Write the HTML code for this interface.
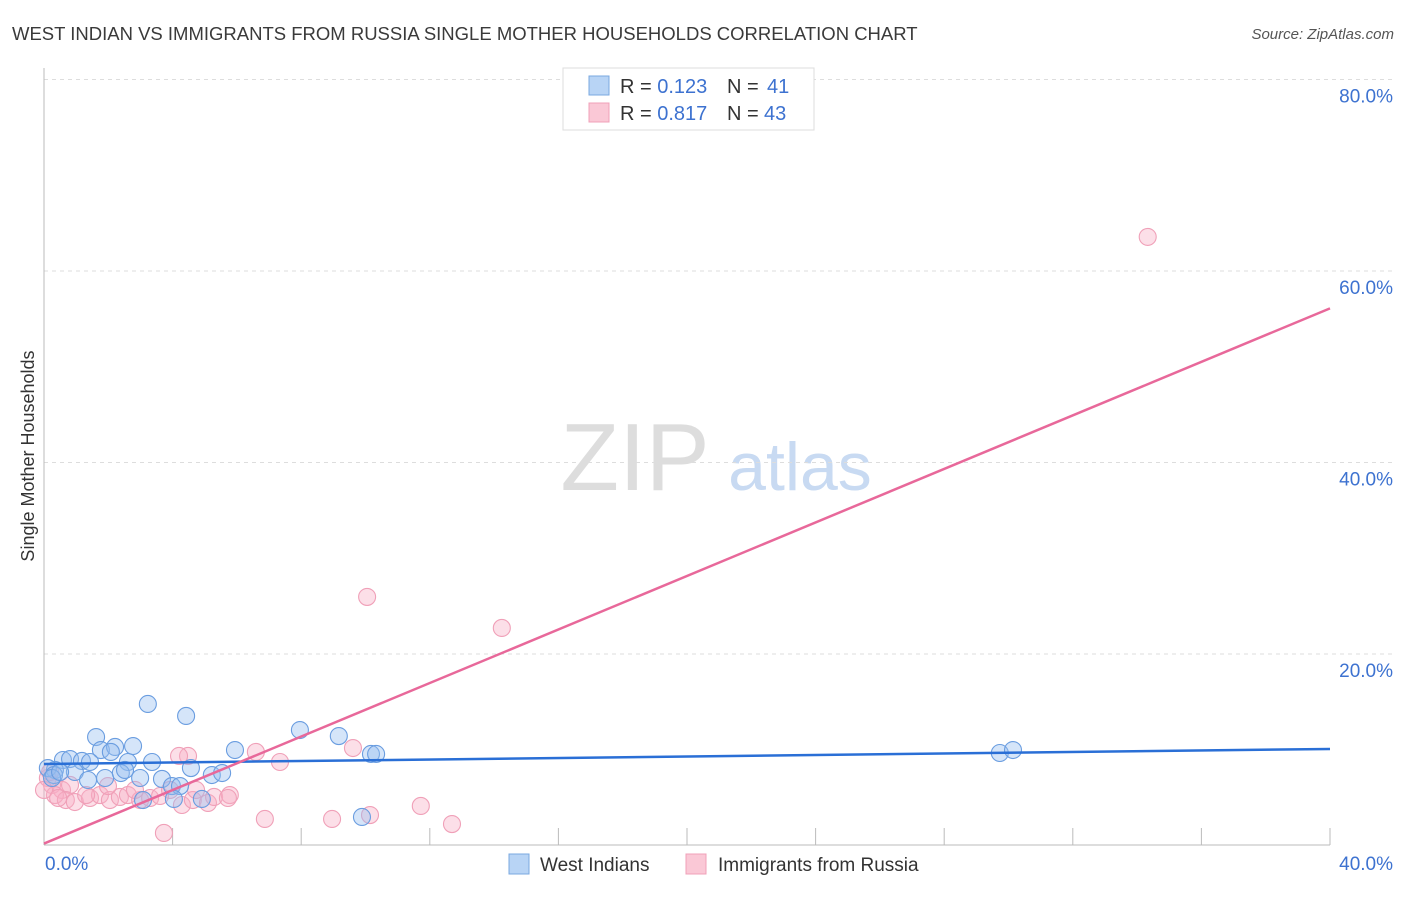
<!DOCTYPE html>
<html><head><meta charset="utf-8"><style>
body{margin:0;background:#fff;font-family:"Liberation Sans",sans-serif}
svg text{font-family:"Liberation Sans",sans-serif}
</style></head><body>
<svg width="1406" height="892">
<text x="12" y="40" font-size="18.5" fill="#3a3a3a">WEST INDIAN VS IMMIGRANTS FROM RUSSIA SINGLE MOTHER HOUSEHOLDS CORRELATION CHART</text>
<text x="1394" y="39" font-size="15" fill="#555" font-style="italic" text-anchor="end">Source: ZipAtlas.com</text>
<g><text x="635" y="490" font-size="96" fill="#ddd" font-family="Liberation Serif" text-anchor="middle">ZIP</text><text x="800" y="490" font-size="68" fill="#c8daf2" text-anchor="middle">atlas</text></g>
<g id="grid"></g>
<g id="axes"></g>
<g id="marks"></g>
<text transform="translate(34,456) rotate(-90)" font-size="18" fill="#333" text-anchor="middle">Single Mother Households</text>
<g>
<rect x="563" y="68" width="251" height="62" fill="#fff" stroke="#ddd"/>
<rect x="589" y="76" width="20" height="19" fill="#b8d4f5" stroke="#7aa8e0"/>
<rect x="589" y="103" width="20" height="19" fill="#fac8d6" stroke="#f0a0b8"/>
<text x="620" y="93" font-size="20" fill="#333">R = <tspan fill="#3d72d0">0.123</tspan></text>
<text x="727" y="93" font-size="20" fill="#333">N = <tspan fill="#3d72d0" x="767">41</tspan></text>
<text x="620" y="120" font-size="20" fill="#333">R = <tspan fill="#3d72d0">0.817</tspan></text>
<text x="727" y="120" font-size="20" fill="#333">N = <tspan fill="#3d72d0" x="764">43</tspan></text>
</g>
<g>
<rect x="509" y="854" width="20" height="20" fill="#b8d4f5" stroke="#7aa8e0"/>
<text x="540" y="871" font-size="19" fill="#333">West Indians</text>
<rect x="686" y="854" width="20" height="20" fill="#fac8d6" stroke="#f0a0b8"/>
<text x="718" y="871" font-size="19" fill="#333">Immigrants from Russia</text>
</g>
</svg>
<script>
const yTicks=[20,40,60,80];
const xTickLabels=["0.0%","40.0%"];
const blueX=[3.23,4.42,1.62,7.96,9.17,1.77,2.21,2.77,5.94,10.17,10.33,29.73,30.14,0.59,0.81,1.18,1.43,2.08,2.61,3.36,0.34,0.12,0.96,1.90,2.39,2.52,2.99,3.67,4.57,5.22,5.54,0.31,3.98,4.23,3.08,4.91,4.04,9.89,0.25,1.37,0.50];
const blueY=[14.78,13.53,11.33,12.06,11.43,9.97,10.29,10.39,9.97,9.56,9.56,9.66,9.97,8.93,9.03,8.83,8.72,9.77,8.72,8.72,7.89,8.09,7.68,7.05,7.57,7.89,7.05,6.95,8.09,7.36,7.57,7.36,6.21,6.21,4.75,4.86,4.86,2.98,7.05,6.84,7.68];
const pinkX=[34.33,10.05,14.24,9.61,6.59,4.48,4.20,7.34,0.12,0.25,0.56,0.81,0.34,0.68,0.96,1.43,1.74,2.05,2.36,2.61,2.99,3.30,3.61,3.92,4.29,4.63,5.10,5.29,5.78,1.99,2.83,4.73,0,0.19,6.87,8.96,10.14,11.72,12.69,3.73,0.44,1.31,5.72];
const pinkY=[63.56,25.96,22.72,10.18,9.77,9.35,9.35,8.72,7.05,6.32,5.80,6.32,5.27,4.75,4.54,4.96,5.27,4.75,5.07,5.27,4.75,4.96,5.17,5.80,4.23,4.75,4.44,5.07,5.27,6.21,5.80,5.80,5.80,7.68,2.77,2.77,3.18,4.13,2.24,1.31,4.96,5.27,4.96];
const blueLine=[8.51,10.08];
const pinkLine=[0.2,56.1];
const xs=v=>44+v/40*1286, ys=v=>845.5-v*9.575;
const NS="http://www.w3.org/2000/svg";
function mk(p,t,a){const e=document.createElementNS(NS,t);for(const k in a)e.setAttribute(k,a[k]);p.appendChild(e);return e;}
const grid=document.getElementById('grid'),axes=document.getElementById('axes'),marks=document.getElementById('marks');
yTicks.forEach(t=>{
 const l=mk(grid,'line',{x1:44,x2:1394,y1:ys(t),y2:ys(t),stroke:'#ddd','stroke-dasharray':'4,4'});
 
 
 const tx=mk(grid,'text',{x:1393,y:ys(t)+23,'font-size':19,fill:'#3d72d0','text-anchor':'end'});
 tx.textContent=t.toFixed(1)+'%';
 
 
});
mk(axes,'line',{x1:44,x2:44,y1:68,y2:845,stroke:'#bbb'});
mk(axes,'line',{x1:44,x2:1330,y1:845,y2:845,stroke:'#bbb'});
for(let i=1;i<=10;i++){const x=xs(i*4);const l=mk(axes,'line',{x1:x,x2:x,y1:828,y2:845,stroke:'#bbb'});}
const xl0=mk(axes,'text',{x:45,y:870,'font-size':19,fill:'#3d72d0'});xl0.textContent=xTickLabels[0];


const xl1=mk(axes,'text',{x:1393,y:870,'font-size':19,fill:'#3d72d0','text-anchor':'end'});xl1.textContent=xTickLabels[1];


pinkX.forEach((v,i)=>{const c=mk(marks,'circle',{cx:xs(v),cy:ys(pinkY[i]),r:8.5,fill:'rgba(248,175,198,0.4)',stroke:'#f0a0b8','stroke-width':1.1});
 
 });
blueX.forEach((v,i)=>{const c=mk(marks,'circle',{cx:xs(v),cy:ys(blueY[i]),r:8.5,fill:'rgba(150,190,240,0.4)',stroke:'#6a9de0','stroke-width':1.1});
 
 });
const bl=mk(marks,'line',{x1:xs(0),x2:xs(40),y1:ys(blueLine[0]),y2:ys(blueLine[1]),stroke:'#2a6fd6','stroke-width':2.5});


const pl=mk(marks,'line',{x1:xs(0),x2:xs(40),y1:ys(pinkLine[0]),y2:ys(pinkLine[1]),stroke:'#e8689a','stroke-width':2.5});


</script>
</body></html>
